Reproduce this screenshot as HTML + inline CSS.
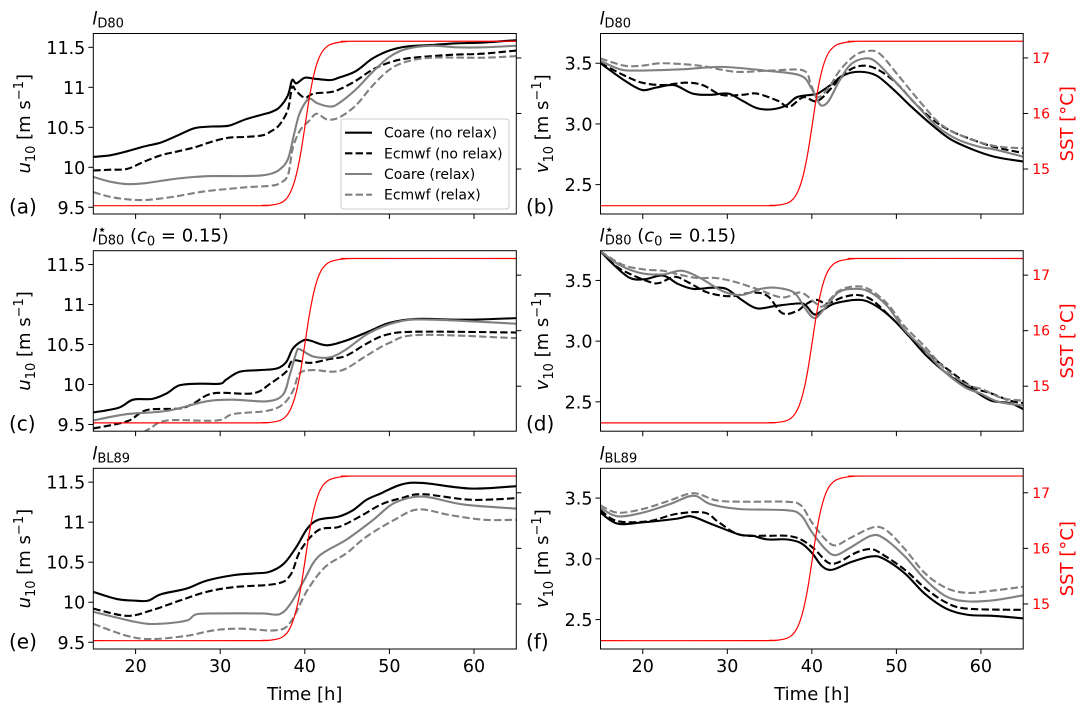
<!DOCTYPE html>
<html><head><meta charset="utf-8">
<style>
html,body{margin:0;padding:0;background:#fff;}
svg{display:block;font-family:"DejaVu Sans","Liberation Sans",sans-serif;}
</style></head>
<body>
<svg id="fig" width="1084" height="713" viewBox="0 0 1084 713" xmlns="http://www.w3.org/2000/svg"></svg>
<script>
// ---- data ----
const sstSeries = [[15,14.34],[34,14.34],[35,14.345],[36,14.35],[37,14.38],[37.5,14.42],[38,14.5],[38.5,14.65],[39,14.9],[39.5,15.27],[40,15.75],[40.5,16.25],[41,16.65],[41.5,16.93],[42,17.1],[42.5,17.19],[43,17.24],[44,17.28],[45,17.295],[46,17.30],[65,17.30]];

const aCoareNo = [[15,10.13],[17,10.15],[19,10.2],[21,10.26],[23,10.31],[25,10.4],[27,10.49],[29,10.51],[31,10.52],[33,10.6],[35,10.66],[36,10.69],[37,10.75],[38,10.9],[38.5,11.09],[39,11.05],[40,11.12],[41,11.11],[43,11.09],[44,11.12],[46,11.2],[48,11.36],[50,11.46],[52,11.51],[55,11.53],[58,11.55],[61,11.56],[65,11.59]];
const aEcmwfNo = [[15,9.96],[17,9.97],[19,9.98],[21,10.07],[23,10.15],[25,10.2],[27,10.25],[29,10.32],[31,10.37],[33,10.38],[35,10.40],[36,10.45],[37,10.53],[38,10.72],[38.5,11.0],[39,10.95],[40,10.87],[41,10.92],[43,10.94],[44,10.97],[46,11.08],[48,11.22],[50,11.31],[52,11.36],[55,11.39],[58,11.41],[61,11.42],[65,11.46]];
const aCoareRe = [[15,9.88],[17,9.82],[19,9.79],[21,9.8],[23,9.83],[25,9.86],[27,9.88],[29,9.89],[33,9.89],[35,9.9],[36,9.92],[37,9.97],[38,10.1],[38.7,10.4],[39.3,10.65],[40,10.8],[40.6,10.86],[41.5,10.8],[43,10.76],[44,10.8],[46,10.97],[48,11.19],[50,11.38],[52,11.48],[55,11.52],[58,11.5],[61,11.5],[65,11.52]];
const aEcmwfRe = [[15,9.69],[17,9.63],[19,9.6],[21,9.59],[23,9.61],[25,9.64],[27,9.68],[29,9.71],[31,9.73],[33,9.75],[36,9.77],[37,9.8],[38,9.9],[38.6,10.25],[39.5,10.47],[40.5,10.58],[41.4,10.67],[42.6,10.6],[44,10.62],[46,10.77],[48,11.02],[50,11.22],[52,11.32],[55,11.37],[61,11.37],[65,11.39]];

const bCoareNo = [[15,3.5],[17.8,3.36],[19.9,3.28],[21.6,3.30],[23.7,3.32],[25.9,3.25],[28,3.24],[30.1,3.25],[31.8,3.19],[33.5,3.13],[35.2,3.12],[36.9,3.15],[38.2,3.22],[39.9,3.24],[40.7,3.25],[42.4,3.33],[43.7,3.40],[45.6,3.43],[47.6,3.40],[49.7,3.28],[51.8,3.14],[54.4,2.98],[56.5,2.87],[59,2.79],[61.6,2.73],[65,2.69]];
const bEcmwfNo = [[15,3.5],[17.8,3.4],[19.9,3.34],[22.4,3.32],[25,3.34],[27.1,3.32],[29.3,3.24],[31.8,3.24],[33.5,3.25],[36,3.19],[37.3,3.14],[39,3.22],[40.7,3.19],[42.9,3.34],[44.6,3.45],[46.3,3.48],[48,3.44],[50.1,3.33],[52.2,3.17],[54.4,3.03],[56.5,2.94],[59,2.87],[61.6,2.81],[65,2.76]];
const bCoareRe = [[15,3.52],[17.3,3.45],[19.5,3.44],[24.6,3.45],[29.3,3.47],[34.4,3.44],[38.6,3.40],[39.9,3.30],[40.7,3.19],[41.2,3.15],[42,3.19],[43.3,3.36],[44.6,3.49],[46.3,3.54],[47.6,3.51],[49.7,3.36],[52.2,3.17],[54.8,2.98],[57.3,2.87],[59.9,2.81],[61.6,2.79],[65,2.73]];
const bEcmwfRe = [[15,3.54],[17.8,3.48],[19.9,3.48],[22.4,3.5],[26.7,3.48],[31,3.43],[35.2,3.44],[39,3.44],[39.9,3.32],[40.7,3.22],[42,3.30],[43.3,3.44],[45,3.56],[46.5,3.6],[48,3.58],[50.1,3.41],[52.7,3.19],[55.2,3.0],[57.8,2.9],[60.3,2.84],[62.5,2.81],[65,2.8]];

const cCoareNo = [[15,9.65],[18,9.71],[19.7,9.81],[22,9.82],[23.7,9.89],[25.2,9.99],[27.6,10.01],[30,10.01],[30.7,10.06],[32.3,10.16],[34.7,10.18],[36.7,10.2],[37.8,10.28],[38.6,10.45],[39.8,10.55],[40.6,10.55],[42.6,10.49],[44.9,10.55],[47.7,10.67],[50,10.77],[53.2,10.82],[59,10.81],[65,10.83]];
const cEcmwfNo = [[15,9.45],[19,9.54],[21.3,9.68],[25.2,9.7],[26.8,9.76],[29.2,9.89],[33.9,9.89],[35.9,10.01],[37.8,10.16],[38.6,10.3],[40.6,10.27],[43,10.32],[44.9,10.36],[47.3,10.51],[49.6,10.62],[53.2,10.66],[65,10.65]];
const cCoareRe = [[15,9.55],[19,9.63],[23.7,9.67],[28.4,9.79],[31.5,9.81],[35.5,9.79],[37.4,9.87],[38.2,10.11],[39,10.4],[39.4,10.44],[41,10.35],[43,10.34],[44.9,10.44],[47.7,10.65],[51.3,10.79],[55.2,10.81],[65,10.76]];
const cEcmwfRe = [[15,9.2],[18,9.27],[19.7,9.33],[21.7,9.45],[23.7,9.55],[29.6,9.55],[31.5,9.63],[35.5,9.67],[37.4,9.75],[38.6,9.92],[39.4,10.14],[41,10.18],[43.3,10.16],[44.9,10.2],[47.3,10.36],[50,10.52],[53.5,10.62],[65,10.58]];

const dCoareNo = [[15,3.74],[16.7,3.62],[18.5,3.52],[20.2,3.51],[22.4,3.54],[24.2,3.47],[26,3.43],[28.2,3.44],[29.9,3.43],[31.7,3.34],[33.5,3.27],[35.7,3.29],[38.3,3.31],[39.2,3.30],[40.3,3.22],[41.4,3.26],[42.7,3.31],[45.4,3.34],[47.1,3.31],[49.3,3.2],[51.5,3.04],[53.7,2.87],[56.4,2.71],[59,2.6],[61.2,2.51],[63.4,2.49],[65,2.44]];
const dEcmwfNo = [[15,3.74],[17.2,3.6],[20.7,3.49],[22,3.48],[23.8,3.53],[25.5,3.48],[27.7,3.4],[30.4,3.37],[33,3.40],[34.8,3.37],[36.5,3.23],[38.3,3.25],[39.2,3.3],[40.5,3.34],[41.8,3.31],[43.6,3.36],[45.4,3.38],[47.1,3.34],[49.3,3.2],[51.5,3.05],[53.7,2.9],[56.4,2.75],[59,2.62],[61.2,2.57],[63.4,2.51],[65,2.49]];
const dCoareRe = [[15,3.74],[17.2,3.63],[19.8,3.56],[22.4,3.55],[24.6,3.58],[26.8,3.52],[29.5,3.41],[31.7,3.38],[33.9,3.43],[35.7,3.44],[37.9,3.4],[39.2,3.27],[40.3,3.19],[41.4,3.26],[43.1,3.4],[44.9,3.43],[46.7,3.41],[48.9,3.29],[51,3.09],[53.3,2.93],[55.5,2.76],[58.1,2.62],[59.9,2.57],[62.1,2.5],[65,2.47]];
const dEcmwfRe = [[15,3.74],[17.6,3.63],[20.2,3.59],[22.4,3.58],[24.2,3.55],[26.4,3.52],[28.6,3.52],[30.8,3.49],[33.5,3.43],[36.5,3.36],[38.7,3.4],[40.5,3.31],[41.4,3.29],[43.1,3.41],[44.9,3.45],[46.7,3.43],[48.9,3.31],[51,3.12],[53.3,2.96],[55.5,2.79],[58.1,2.65],[60.3,2.6],[62.5,2.53],[65,2.51]];

const eCoareNo = [[15,10.13],[17.8,10.04],[20,10.02],[21.5,10.02],[23,10.1],[26,10.17],[28.4,10.27],[31.7,10.34],[34,10.36],[35.8,10.38],[37.5,10.48],[39,10.69],[40.3,10.92],[41.6,11.03],[44,11.07],[45.7,11.15],[47.3,11.28],[49,11.36],[51.4,11.47],[53.9,11.49],[59.6,11.42],[65,11.45]];
const eEcmwfNo = [[15,9.92],[19,9.83],[21.9,9.9],[25.2,10.02],[28.4,10.13],[31.7,10.19],[36.6,10.23],[38.3,10.34],[39.5,10.65],[41.6,10.9],[44,10.94],[46.5,11.07],[49,11.22],[51.4,11.3],[53.9,11.35],[59.6,11.28],[65,11.3]];
const eCoareRe = [[15,9.88],[20.2,9.75],[22.7,9.73],[26,9.77],[27.2,9.85],[30,9.86],[35,9.86],[37,9.85],[38.3,9.98],[39.9,10.27],[41.6,10.57],[44.9,10.78],[48.1,11.03],[50.6,11.24],[53.9,11.32],[58.8,11.22],[65,11.17]];
const eEcmwfRe = [[15,9.73],[19,9.58],[21.9,9.54],[26,9.58],[29.3,9.65],[32.5,9.67],[36.6,9.65],[38.3,9.75],[40.3,10.15],[42.4,10.44],[44.9,10.61],[47.3,10.82],[50.6,11.03],[53.4,11.16],[57.1,11.09],[61.2,11.03],[65,11.03]];

const fCoareNo = [[15,3.38],[17,3.29],[20,3.3],[24,3.33],[25.7,3.35],[28,3.29],[31.4,3.2],[33,3.19],[34.7,3.16],[37,3.16],[38.7,3.13],[40,3.05],[41.2,2.94],[42.4,2.91],[44.5,2.97],[47,3.02],[48.5,3.0],[51,2.88],[53.4,2.71],[55.9,2.59],[58.4,2.54],[61.6,2.53],[65,2.51]];
const fEcmwfNo = [[15,3.4],[17,3.31],[20.7,3.31],[24,3.37],[27.3,3.38],[29,3.3],[31.4,3.2],[34.7,3.19],[37,3.19],[38.7,3.16],[40.3,3.08],[41.9,2.97],[43.1,2.97],[45.2,3.05],[47,3.08],[48.5,3.03],[51,2.91],[53.4,2.76],[55.9,2.64],[58.4,2.59],[65,2.58]];
const fCoareRe = [[15,3.42],[17,3.35],[20,3.38],[23.2,3.45],[26,3.52],[28,3.45],[31.4,3.41],[37,3.4],[38.7,3.36],[40,3.22],[41.6,3.08],[42.8,3.03],[44.5,3.09],[47,3.19],[48.5,3.17],[51,3.02],[53.4,2.83],[55.9,2.69],[58.4,2.65],[61.6,2.66],[65,2.7]];
const fEcmwfRe = [[15,3.44],[17,3.38],[20,3.41],[23.2,3.48],[26,3.54],[28.8,3.48],[32.2,3.47],[37,3.47],[38.7,3.44],[40,3.3],[41.6,3.16],[42.8,3.11],[44.5,3.17],[47.3,3.26],[48.9,3.23],[51,3.08],[53.4,2.88],[55.9,2.76],[58.4,2.72],[61.6,2.74],[65,2.77]];

const uTicks = [9.5,10,10.5,11,11.5];
const uTickLabels = ["9.5","10","10.5","11","11.5"];
const vTicks = [2.5,3.0,3.5];
const vTickLabels = ["2.5","3.0","3.5"];
const sstTicks = [15,16,17];
const sstTickLabels = ["15","16","17"];
const timeTicks = [20,30,40,50,60];
const timeTickLabels = ["20","30","40","50","60"];
const legendLabels = ["Coare (no relax)","Ecmwf (no relax)","Coare (relax)","Ecmwf (relax)"];

// ---- drawing ----
const NS = "http://www.w3.org/2000/svg";
const svg = document.getElementById('fig');
function mk(tag, attrs, parent){
  const e = document.createElementNS(NS, tag);
  for (const k in attrs) e.setAttribute(k, attrs[k]);
  (parent||svg).appendChild(e);
  return e;
}
const styles = [
  {stroke:'#000', dash:null},
  {stroke:'#000', dash:'7.4,3.2'},
  {stroke:'#808080', dash:null},
  {stroke:'#808080', dash:'7.4,3.2'}
];
const seriesNames = ['coare-no-relax','ecmwf-no-relax','coare-relax','ecmwf-relax'];
const rowsY = [[33.5,214],[250.7,431.2],[468.3,649]];
const colsX = [[93.3,516.3],[600.5,1023.2]];
const uLim = [9.416,11.673], vLim = [2.258,3.745], sstLim = [14.19,17.44], tLim = [15,65];

const panels = [
  {id:'a', r:0, c:0, data:[aCoareNo,aEcmwfNo,aCoareRe,aEcmwfRe]},
  {id:'b', r:0, c:1, data:[bCoareNo,bEcmwfNo,bCoareRe,bEcmwfRe]},
  {id:'c', r:1, c:0, data:[cCoareNo,cEcmwfNo,cCoareRe,cEcmwfRe]},
  {id:'d', r:1, c:1, data:[dCoareNo,dEcmwfNo,dCoareRe,dEcmwfRe]},
  {id:'e', r:2, c:0, data:[eCoareNo,eEcmwfNo,eCoareRe,eEcmwfRe]},
  {id:'f', r:2, c:1, data:[fCoareNo,fEcmwfNo,fCoareRe,fEcmwfRe]}
];

function smoothPath(pts){
  let d = 'M'+pts[0][0].toFixed(2)+','+pts[0][1].toFixed(2);
  for (let i=0;i<pts.length-1;i++){
    const p0 = pts[Math.max(0,i-1)], p1 = pts[i], p2 = pts[i+1], p3 = pts[Math.min(pts.length-1,i+2)];
    const c1x = p1[0]+(p2[0]-p0[0])/6, c1y = p1[1]+(p2[1]-p0[1])/6;
    const c2x = p2[0]-(p3[0]-p1[0])/6, c2y = p2[1]-(p3[1]-p1[1])/6;
    d += ' C'+c1x.toFixed(2)+','+c1y.toFixed(2)+' '+c2x.toFixed(2)+','+c2y.toFixed(2)+' '+p2[0].toFixed(2)+','+p2[1].toFixed(2);
  }
  return d;
}
function linePath(pts){
  return 'M'+pts.map(p=>p[0].toFixed(2)+','+p[1].toFixed(2)).join(' L');
}

const defs = mk('defs',{});
panels.forEach(p=>{
  const [x0,x1] = colsX[p.c], [y0,y1] = rowsY[p.r];
  const lim = p.c===0 ? uLim : vLim;
  const xs = t => x0 + (t - tLim[0])/(tLim[1]-tLim[0])*(x1-x0);
  const ys = v => y1 - (v - lim[0])/(lim[1]-lim[0])*(y1-y0);
  const ysst = v => y1 - (v - sstLim[0])/(sstLim[1]-sstLim[0])*(y1-y0);
  const g = mk('g',{});
  
  
  const cp = mk('clipPath',{id:'clip-'+p.id}, defs);
  mk('rect',{x:x0,y:y0,width:x1-x0,height:y1-y0}, cp);

  p.data.forEach((arr,i)=>{
    const pts = arr.map(d=>[xs(d[0]), ys(d[1])]);
    const path = mk('path',{d:smoothPath(pts), fill:'none', stroke:styles[i].stroke, 'stroke-width':2.1, 'clip-path':'url(#clip-'+p.id+')'}, g);
    if (styles[i].dash) path.setAttribute('stroke-dasharray', styles[i].dash);
    
    
  });
  const sp = mk('path',{d:smoothPath(sstSeries.map(d=>[xs(d[0]), ysst(d[1])])), fill:'none', stroke:'#ff0000', 'stroke-width':1.2, 'stroke-linejoin':'round', 'clip-path':'url(#clip-'+p.id+')'}, g);
  
  

  const fr = mk('rect',{x:x0,y:y0,width:x1-x0,height:y1-y0,fill:'none',stroke:'#000','stroke-width':1}, g);
  
  

  timeTicks.forEach((t,i)=>{
    mk('line',{x1:xs(t),x2:xs(t),y1:y1,y2:y1+5,stroke:'#000','stroke-width':1}, g);
    if (p.r===2){
      const tl = mk('text',{x:xs(t),y:y1+23,'font-size':17.5,'text-anchor':'middle',fill:'#000'}, g);
      tl.textContent = timeTickLabels[i];
      
      
    }
  });
  const yt = p.c===0 ? uTicks : vTicks, ytl = p.c===0 ? uTickLabels : vTickLabels;
  yt.forEach((v,i)=>{
    mk('line',{x1:x0-5,x2:x0,y1:ys(v),y2:ys(v),stroke:'#000','stroke-width':1}, g);
    const tl = mk('text',{x:x0-8,y:ys(v)+6.5,'font-size':17.5,'text-anchor':'end',fill:'#000'}, g);
    tl.textContent = ytl[i];
    
    
  });
  sstTicks.forEach((v,i)=>{
    mk('line',{x1:x1,x2:x1+5,y1:ysst(v),y2:ysst(v),stroke:'#000','stroke-width':1}, g);
    if (p.c===1){
      const tl = mk('text',{x:x1+9,y:ysst(v)+5,'font-size':14,fill:'#ff0000'}, g);
      tl.textContent = sstTickLabels[i];
      
      
    }
  });
  const lt = mk('text',{x: p.c===0 ? 9 : 526, y: y1-0.5, 'font-size':20, fill:'#000'}, g);
  lt.textContent = '('+p.id+')';
  
  

  const cy = (y0+y1)/2;
  const lx = p.c===0 ? 30 : 548;
  const yl = mk('text',{x:0,y:0,'font-size':18,'text-anchor':'middle',fill:'#000',transform:'translate('+lx+','+cy+') rotate(-90)'}, g);
  yl.innerHTML = '<tspan font-style="italic">'+(p.c===0?'u':'v')+'</tspan><tspan font-size="13" dy="5">10</tspan><tspan dy="-5"> [m s</tspan><tspan font-size="13" dy="-7">−1</tspan><tspan dy="7">]</tspan>';
  
  
  if (p.c===1){
    const sl = mk('text',{x:0,y:0,'font-size':18,'text-anchor':'middle',fill:'#ff0000',transform:'translate(1073,'+cy+') rotate(-90)'}, g);
    sl.textContent = 'SST [°C]';
    
    
  }
  const tt = mk('text',{x:x0-1,y:y0-9,'font-size':18,fill:'#000'}, g);
  if (p.r===0) tt.innerHTML = '<tspan font-style="italic">l</tspan><tspan font-size="13" dy="3">D80</tspan>';
  else if (p.r===1) tt.innerHTML = '<tspan font-style="italic">l</tspan><tspan font-size="15" dy="-7">⋆</tspan><tspan font-size="13" dx="-9" dy="10">D80</tspan><tspan dy="-3"> (</tspan><tspan font-style="italic">c</tspan><tspan font-size="13" dy="4">0</tspan><tspan dy="-4"> = 0.15)</tspan>';
  else tt.innerHTML = '<tspan font-style="italic">l</tspan><tspan font-size="13" dy="3">BL89</tspan>';
  
  

  if (p.r===2){
    const xl = mk('text',{x:(x0+x1)/2,y:700,'font-size':18,'text-anchor':'middle',fill:'#000'}, g);
    xl.textContent = 'Time [h]';
    
    
  }

  if (p.id==='a'){
    const lg = mk('g',{}, g);
    
    
    mk('rect',{x:341,y:119,width:168,height:90,rx:3,fill:'#fff','fill-opacity':0.85,stroke:'#cccccc','stroke-width':1}, lg);
    const ly = [132.7,153.3,174,194.7];
    legendLabels.forEach((lab,i)=>{
      const e = mk('g',{}, lg);
      
      
      const ln = mk('line',{x1:345,x2:372,y1:ly[i],y2:ly[i],stroke:styles[i].stroke,'stroke-width':2.1}, e);
      if (styles[i].dash) ln.setAttribute('stroke-dasharray', styles[i].dash);
      const tx = mk('text',{x:384,y:ly[i]+5,'font-size':14,fill:'#000'}, e);
      tx.textContent = lab;
    });
  }
});
</script>
</body></html>
